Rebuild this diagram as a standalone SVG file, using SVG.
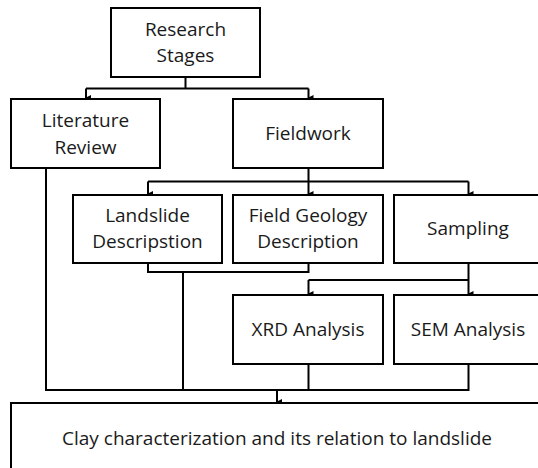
<svg xmlns="http://www.w3.org/2000/svg" width="538" height="468" viewBox="0 0 538 468">
<defs>
<marker id="arr" markerWidth="6" markerHeight="6" refX="3" refY="5" orient="auto" markerUnits="userSpaceOnUse" viewBox="0 0 6 6">
<path d="M0,0 L6,0 L3,6 Z" fill="#000"/>
</marker>
<style>
.box{fill:#fff;stroke:#000;stroke-width:2}
.t{font-family:"Open Sans","Liberation Sans",Arial,sans-serif;font-size:19px;fill:#1a1a1a;text-anchor:middle}
.c{fill:none;stroke:#000;stroke-width:2}
</style>
</defs>
<rect width="538" height="468" fill="#fff"/>
<g id="connectors">
<path class="c" d="M185.5,77 V88.5 M86,88.5 H308.5"/>
<path class="c" d="M86,88.5 V98" marker-end="url(#arr)"/>
<path class="c" d="M308.5,88.5 V98" marker-end="url(#arr)"/>
<path class="c" d="M308.5,168 V181.5 M148,181.5 H468.5"/>
<path class="c" d="M148,181.5 V194" marker-end="url(#arr)"/>
<path class="c" d="M308.5,181.5 V194" marker-end="url(#arr)"/>
<path class="c" d="M468.5,181.5 V194" marker-end="url(#arr)"/>
<path class="c" d="M468.5,263 V280 M308.5,280 H468.5"/>
<path class="c" d="M308.5,280 V294" marker-end="url(#arr)"/>
<path class="c" d="M468.5,280 V294" marker-end="url(#arr)"/>
<path class="c" d="M148,263 V272 H308.5 V263 M183,272 V390"/>
<path class="c" d="M46,168 V390 H468.5 V364 M308.5,364 V390"/>
<path class="c" d="M277,390 V402" marker-end="url(#arr)"/>
</g>
<g id="research-stages">
<rect class="box" x="111" y="8" width="149" height="69"/>
<text class="t" x="185.5" y="36">Research</text>
<text class="t" x="185.5" y="62">Stages</text>
</g>
<g id="literature-review">
<rect class="box" x="11" y="99" width="149" height="69"/>
<text class="t" x="85.5" y="127">Literature</text>
<text class="t" x="85.5" y="154">Review</text>
</g>
<g id="fieldwork">
<rect class="box" x="233" y="99" width="150" height="69"/>
<text class="t" x="308" y="140">Fieldwork</text>
</g>
<g id="landslide-description">
<rect class="box" x="73" y="195" width="149" height="68"/>
<text class="t" x="147.5" y="222">Landslide</text>
<text class="t" x="147.5" y="248">Descripstion</text>
</g>
<g id="field-geology-description">
<rect class="box" x="233" y="195" width="150" height="68"/>
<text class="t" x="308" y="222">Field Geology</text>
<text class="t" x="308" y="248">Description</text>
</g>
<g id="sampling">
<rect class="box" x="394" y="195" width="150" height="68"/>
<text class="t" x="468" y="235">Sampling</text>
</g>
<g id="xrd-analysis">
<rect class="box" x="233" y="295" width="150" height="69"/>
<text class="t" x="308" y="336">XRD Analysis</text>
</g>
<g id="sem-analysis">
<rect class="box" x="394" y="295" width="150" height="69"/>
<text class="t" x="468" y="336">SEM Analysis</text>
</g>
<g id="clay-characterization">
<rect class="box" x="11" y="403" width="533" height="80"/>
<text class="t" x="277" y="445">Clay characterization and its relation to landslide</text>
</g>
</svg>
